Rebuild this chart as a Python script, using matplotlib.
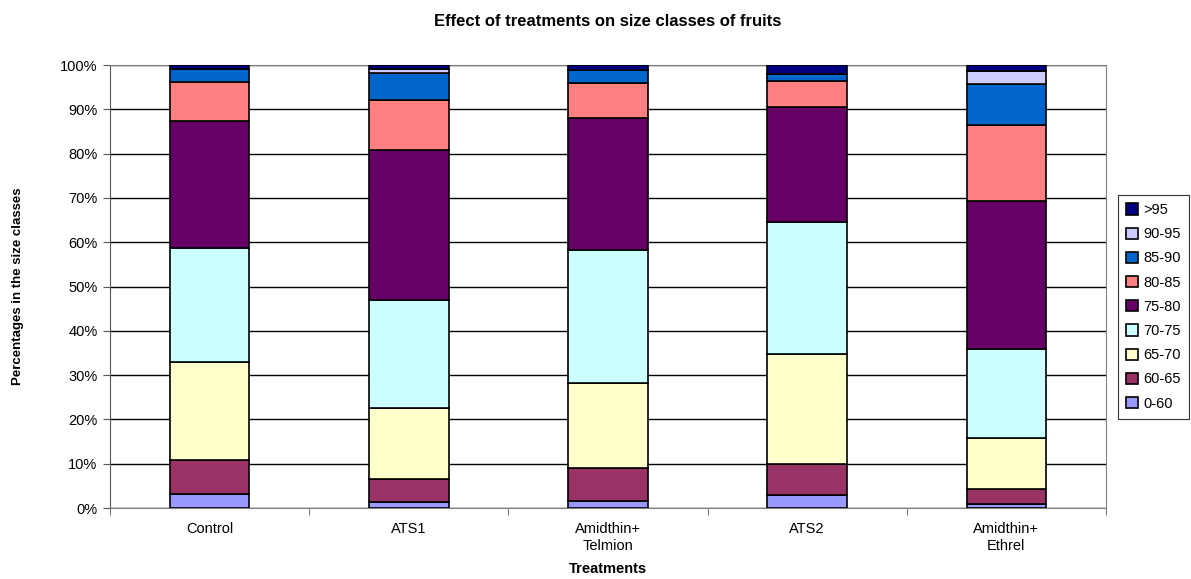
import matplotlib.pyplot as plt
from matplotlib.ticker import FuncFormatter, FixedLocator
import numpy as np

plt.rcParams['font.family'] = ['Liberation Sans', 'DejaVu Sans']

treatments = ['Control', 'ATS1', 'Amidthin+\nTelmion', 'ATS2', 'Amidthin+\nEthrel']
classes = ['0-60', '60-65', '65-70', '70-75', '75-80', '80-85', '85-90', '90-95', '>95']
colors = ['#9999FF', '#993366', '#FFFFCC', '#CCFFFF', '#660066',
          '#FF8080', '#0066CC', '#CCCCFF', '#000080']

# cumulative tops (%), one list per treatment
cum_control = [3.2, 10.8, 33.0, 58.8, 87.4, 96.2, 99.1, 99.1, 100]
cum_ats1 = [1.4, 6.5, 22.6, 47.0, 80.8, 92.1, 98.1, 99.1, 100]
cum_amid_tel = [1.6, 9.0, 28.2, 58.3, 88.0, 95.9, 98.9, 98.9, 100]
cum_ats2 = [2.9, 9.9, 34.8, 64.6, 90.6, 96.3, 98.0, 98.0, 100]
cum_amid_eth = [0.9, 4.3, 15.7, 35.9, 69.4, 86.5, 95.8, 98.6, 100]

cum = np.array([cum_control, cum_ats1, cum_amid_tel, cum_ats2, cum_amid_eth]) / 100
vals = np.diff(np.hstack([np.zeros((len(treatments), 1)), cum]), axis=1)

fig = plt.figure(figsize=(11.91, 5.79), dpi=100)
ax = fig.add_axes([0.0924, 0.1226, 0.8362, 0.7651])

x = np.arange(len(treatments))
bottom = np.zeros(len(treatments))
for i, c in enumerate(classes):
    ax.bar(x, vals[:, i], 0.4, bottom=bottom, color=colors[i],
           edgecolor='black', linewidth=1.2, label=c, zorder=3)
    bottom += vals[:, i]

ax.set_xlim(-0.5, len(treatments) - 0.5)
ax.set_ylim(0, 1)
ax.set_yticks(np.arange(0, 1.01, 0.1))
ax.yaxis.set_major_formatter(FuncFormatter(lambda y, _: '{:.0f}%'.format(y * 100)))
ax.yaxis.grid(True, color='black', linewidth=1.0, zorder=0)

ax.set_xticks(x)
ax.set_xticklabels(treatments, linespacing=1.25)
ax.tick_params(axis='x', length=0, labelsize=10.5, pad=10)
ax.xaxis.set_minor_locator(FixedLocator(np.arange(-0.5, len(treatments), 1)))
ax.tick_params(axis='x', which='minor', length=5, color='#555555')
ax.tick_params(axis='y', labelsize=10.5, length=5, color='#555555', pad=4)

for s in ['top', 'right']:
    ax.spines[s].set_color('#808080')
ax.spines['left'].set_color('#555555')
ax.spines['bottom'].set_color('#808080')

ax.set_title('Effect of treatments on size classes of fruits', fontsize=12,
             fontweight='bold', pad=28)
ax.set_xlabel('Treatments', fontsize=10.5, fontweight='bold', labelpad=7)
ax.set_ylabel('Percentages in the size classes', fontsize=9.5, fontweight='bold', labelpad=26)

handles, labels = ax.get_legend_handles_labels()
leg = fig.legend(handles[::-1], labels[::-1], loc='upper left',
                 bbox_to_anchor=(1118 / 1191, 1 - 195 / 579), fontsize=10.5,
                 frameon=True, fancybox=False, edgecolor='black',
                 handlelength=0.8, handleheight=0.8, handletextpad=0.4,
                 labelspacing=0.7, borderpad=0.55, borderaxespad=0)
leg.get_frame().set_linewidth(0.8)

fig.savefig('out.png', dpi=100)
